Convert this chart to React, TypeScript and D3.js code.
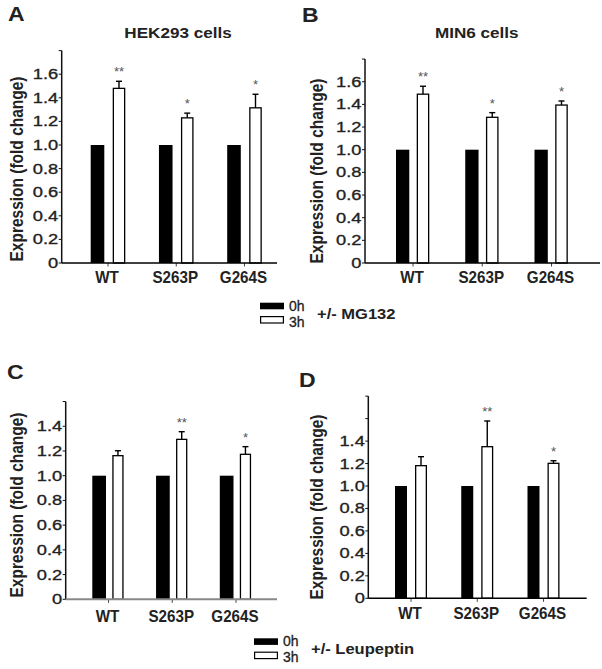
import React from "react";
import * as d3 from "d3";

const categories = ["WT", "S263P", "G264S"];
const legendLabels = ["0h", "3h"];

const hek0h = [1.0, 1.0, 1.0];
const hek3h = [1.48, 1.23, 1.315];
const hek3hErr = [0.06, 0.04, 0.115];
const hekStars = ["**", "*", "*"];

const min0h = [1.0, 1.0, 1.0];
const min3h = [1.49, 1.286, 1.394];
const min3hErr = [0.07, 0.041, 0.036];
const minStars = ["**", "*", "*"];

const leuC0h = [1.0, 1.0, 1.0];
const leuC3h = [1.162, 1.294, 1.173];
const leuC3hErr = [0.04, 0.062, 0.062];
const leuCStars = ["", "**", "*"];

const leuD0h = [1.0, 1.0, 1.0];
const leuD3h = [1.181, 1.35, 1.202];
const leuD3hErr = [0.08, 0.229, 0.023];
const leuDStars = ["", "**", "*"];

const ticksAB = [0, 0.2, 0.4, 0.6, 0.8, 1.0, 1.2, 1.4, 1.6, 1.8];
const labelsAB = [0, 0.2, 0.4, 0.6, 0.8, 1.0, 1.2, 1.4, 1.6];
const ticksC = [0, 0.2, 0.4, 0.6, 0.8, 1.0, 1.2, 1.4, 1.6];
const ticksD = [0, 0.2, 0.4, 0.6, 0.8, 1.0, 1.2, 1.4, 1.6, 1.8];
const labelsCD = [0, 0.2, 0.4, 0.6, 0.8, 1.0, 1.2, 1.4];

const TXT = "#222";
const FONT = "'Liberation Sans', Arial, sans-serif";
const SX = 1.18;

type PanelCfg = {
  letter: string;
  letterX: number;
  letterY: number;
  title?: string;
  titleX?: number;
  titleY?: number;
  axisX: number;
  axisEnd: number;
  baseline: number;
  unit: number;
  yMax: number;
  c0: number;
  c2: number;
  blackOff: number;
  blackW: number;
  whiteOff: number;
  whiteW: number;
  ylabelX: number;
  ylabelY: number;
  xlabelY: number;
  xAxisColor: string;
  ticks: number[];
  labels: number[];
  v0: number[];
  v3: number[];
  err: number[];
  stars: string[];
};

const fmt = (v: number) => (v === 0 ? "0" : v.toFixed(1));

function Panel({ c }: { c: PanelCfg }) {
  const y = d3
    .scaleLinear()
    .domain([0, c.yMax])
    .range([c.baseline, c.baseline - c.yMax * c.unit]);
  const x = d3.scalePoint<string>().domain(categories).range([c.c0, c.c2]);
  const top = y(c.yMax);
  return (
    <g>
      <text
        transform={`translate(${c.letterX},${c.letterY}) scale(${SX},1)`}
        fontFamily={FONT}
        fontWeight="bold"
        fontSize={19.5}
        fill={TXT}
      >
        {c.letter}
      </text>
      {c.title && (
        <text
          transform={`translate(${c.titleX},${c.titleY}) scale(${SX},1)`}
          textAnchor="middle"
          fontFamily={FONT}
          fontWeight="bold"
          fontSize={14.5}
          fill={TXT}
        >
          {c.title}
        </text>
      )}
      <text
        transform={`translate(${c.ylabelX},${c.ylabelY}) rotate(-90) scale(1,${SX})`}
        textAnchor="middle"
        dominantBaseline="central"
        fontFamily={FONT}
        fontWeight="bold"
        fontSize={15.5}
        fill={TXT}
      >
        Expression (fold change)
      </text>
      {categories.map((cat, i) => {
        const cx = x(cat) as number;
        const w0 = c.whiteW - 1.3;
        const wc = cx + c.whiteOff + c.whiteW / 2;
        return (
          <g key={cat}>
            <rect
              x={cx + c.blackOff}
              y={y(c.v0[i])}
              width={c.blackW}
              height={c.baseline - y(c.v0[i])}
              fill="#000"
            />
            <line x1={wc} x2={wc} y1={y(c.v3[i])} y2={y(c.v3[i] + c.err[i])} stroke="#000" strokeWidth={1.4} />
            <line
              x1={wc - 3}
              x2={wc + 3}
              y1={y(c.v3[i] + c.err[i])}
              y2={y(c.v3[i] + c.err[i])}
              stroke="#000"
              strokeWidth={1.4}
            />
            <rect
              x={cx + c.whiteOff + 0.65}
              y={y(c.v3[i])}
              width={w0}
              height={c.baseline - y(c.v3[i])}
              fill="#fff"
              stroke="#000"
              strokeWidth={1.3}
            />
            {c.stars[i] && (
              <text
                x={wc}
                y={y(c.v3[i] + c.err[i]) - 5}
                textAnchor="middle"
                fontFamily={FONT}
                fontSize={13}
                fill="#555"
              >
                {c.stars[i]}
              </text>
            )}
            <line x1={cx} x2={cx} y1={c.baseline} y2={c.baseline + 3.5} stroke="#444" strokeWidth={1} />
            <text
              transform={`translate(${cx - 1},${c.xlabelY}) scale(0.95,1)`}
              textAnchor="middle"
              fontFamily={FONT}
              fontWeight="bold"
              fontSize={16}
              fill={TXT}
            >
              {cat}
            </text>
          </g>
        );
      })}
      <line x1={c.axisX} x2={c.axisX} y1={top} y2={c.baseline} stroke="#111" strokeWidth={1.5} />
      {c.ticks.map((t) => (
        <line key={t} x1={c.axisX - 3} x2={c.axisX} y1={y(t)} y2={y(t)} stroke="#111" strokeWidth={1} />
      ))}
      {c.labels.map((t) => (
        <text
          key={t}
          transform={`translate(${c.axisX - 3.5},${y(t)}) scale(${SX},1)`}
          textAnchor="end"
          dominantBaseline="central"
          fontFamily={FONT}
          fontSize={15.5}
          fill={TXT}
          stroke={TXT}
          strokeWidth={0.35}
        >
          {fmt(t)}
        </text>
      ))}
      <line
        x1={c.axisX}
        x2={c.axisEnd}
        y1={c.baseline}
        y2={c.baseline}
        stroke={c.xAxisColor}
        strokeWidth={c.xAxisColor === "#000" ? 1.5 : 2}
      />
    </g>
  );
}

function Legend({ x, y, label }: { x: number; y: number; label: string }) {
  return (
    <g>
      <rect x={x} y={y} width={24} height={6.6} fill="#000" />
      <rect x={x + 0.6} y={y + 13.9} width={22.8} height={6.4} fill="#fff" stroke="#000" strokeWidth={1.2} />
      <text x={x + 29} y={y + 8} fontFamily={FONT} fontSize={14} fill={TXT} stroke={TXT} strokeWidth={0.3}>
        {legendLabels[0]}
      </text>
      <text x={x + 29} y={y + 24} fontFamily={FONT} fontSize={14} fill={TXT} stroke={TXT} strokeWidth={0.3}>
        {legendLabels[1]}
      </text>
      <text
        transform={`translate(${x + 57},${y + 16}) scale(${SX},1)`}
        fontFamily={FONT}
        fontWeight="bold"
        fontSize={14}
        fill={TXT}
      >
        {label}
      </text>
    </g>
  );
}

const panels: PanelCfg[] = [
  {
    letter: "A", letterX: 8, letterY: 21, title: "HEK293 cells", titleX: 178, titleY: 37.5,
    axisX: 61.7, axisEnd: 277, baseline: 263, unit: 118, yMax: 1.8,
    c0: 108, c2: 244.5, blackOff: -17.3, blackW: 13.6, whiteOff: 4.7, whiteW: 12.6,
    ylabelX: 17, ylabelY: 169, xlabelY: 283, xAxisColor: "#000",
    ticks: ticksAB, labels: labelsAB, v0: hek0h, v3: hek3h, err: hek3hErr, stars: hekStars,
  },
  {
    letter: "B", letterX: 302, letterY: 22, title: "MIN6 cells", titleX: 476.7, titleY: 37.5,
    axisX: 365, axisEnd: 600, baseline: 263, unit: 113.3, yMax: 1.8,
    c0: 413, c2: 551.5, blackOff: -17, blackW: 13.3, whiteOff: 3.7, whiteW: 12.6,
    ylabelX: 317, ylabelY: 171, xlabelY: 283, xAxisColor: "#000",
    ticks: ticksAB, labels: labelsAB, v0: min0h, v3: min3h, err: min3hErr, stars: minStars,
  },
  {
    letter: "C", letterX: 7, letterY: 379,
    axisX: 65.7, axisEnd: 277, baseline: 599.3, unit: 123.6, yMax: 1.6,
    c0: 108.5, c2: 236, blackOff: -16.2, blackW: 13.7, whiteOff: 3.8, whiteW: 11.3,
    ylabelX: 17, ylabelY: 505, xlabelY: 621.5, xAxisColor: "#888",
    ticks: ticksC, labels: labelsCD, v0: leuC0h, v3: leuC3h, err: leuC3hErr, stars: leuCStars,
  },
  {
    letter: "D", letterX: 299, letterY: 387,
    axisX: 368.3, axisEnd: 586.7, baseline: 598.3, unit: 112.3, yMax: 1.8,
    c0: 411, c2: 543.5, blackOff: -16, blackW: 12, whiteOff: 4, whiteW: 12,
    ylabelX: 317, ylabelY: 507, xlabelY: 618.5, xAxisColor: "#000",
    ticks: ticksD, labels: labelsCD, v0: leuD0h, v3: leuD3h, err: leuD3hErr, stars: leuDStars,
  },
];

export default function App() {
  return (
    <svg
      width={602}
      height={669}
      viewBox="0 0 602 669"
      style={{ position: "absolute", left: 0, top: 0, background: "#fff" }}
    >
      <rect x={0} y={0} width={602} height={669} fill="#fff" />
      {panels.map((p) => (
        <Panel key={p.letter} c={p} />
      ))}
      <Legend x={260} y={302.7} label="+/- MG132" />
      <Legend x={254} y={638.3} label="+/- Leupeptin" />
    </svg>
  );
}
